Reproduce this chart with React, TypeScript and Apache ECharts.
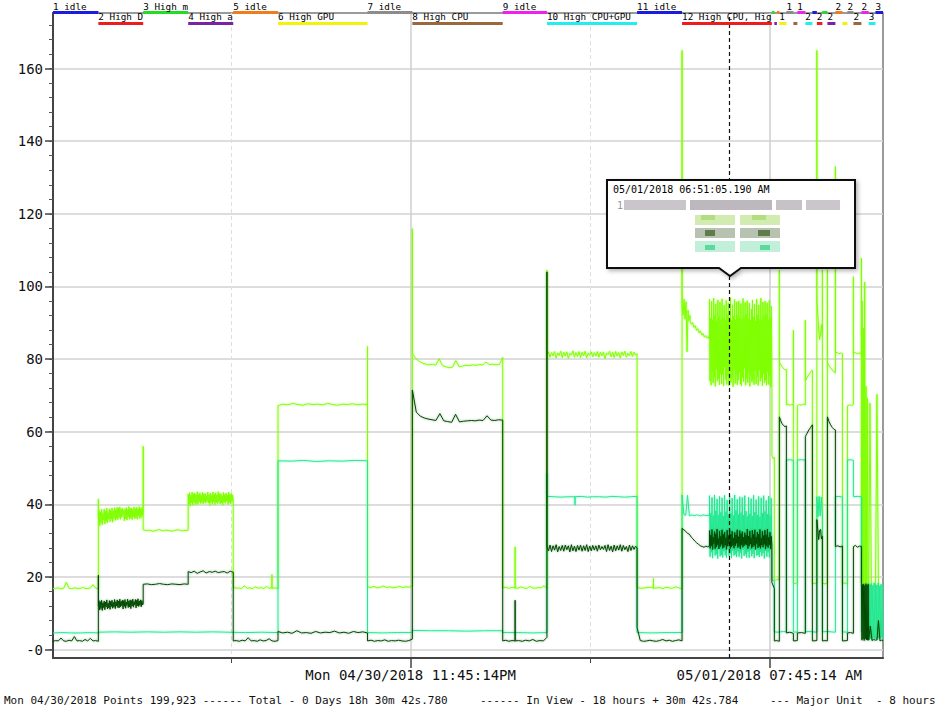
import React, { useEffect, useRef } from 'react';
import * as echarts from 'echarts';

// x values: minutes relative to Mon 04/30/2018 11:45:14 PM
const X_MIN = -478.5;
const X_MAX = 632.2;
const MAJOR_TICKS = [0, 480];
const MINOR_TICKS = [-240, 240];
const MAJOR_LABELS = ['Mon 04/30/2018 11:45:14PM', '05/01/2018 07:45:14 AM'];
const Y_MIN = -2.3;
const Y_MAX = 175.3;
const Y_MAJOR = [0, 20, 40, 60, 80, 100, 120, 140, 160];
const Y_MINOR = [0, 4, 8, 12, 16, 20, 24, 28, 32, 36, 40, 44, 48, 52, 56, 60, 64, 68, 72, 76, 80, 84, 88, 92, 96, 100, 104, 108, 112, 116, 120, 124, 128, 132, 136, 140, 144, 148, 152, 156, 160, 164, 168, 172];
const CURSOR_TIME = 425.85;

// test segments (boundaries in minutes) and their names
const segBounds = [-478.5, -417.8, -357.8, -297.6, -237.3, -177.4, -57.6, 2.4, 123.3, 182.5, 303.1, 363.3, 483.5, 486.8, 490.2, 493.5, 502.9, 512.3, 517.6, 528.3, 537.7, 543.7, 551.1, 557.8, 568.5, 577.9, 584.6, 592.6, 603.3, 613.0, 622.1, 632.2];
const segNames = ['1 idle', '2 High Disk', '3 High mem', '4 High audio', '5 idle', '6 High GPU', '7 idle', '8 High CPU', '9 idle', '10 High CPU+GPU', '11 idle', '12 High CPU, High GPU', '13 idle', '14 High Disk', '15 High mem', '16 High CPU', '17 High GPU', '18 idle', '19 High GPU', '20 High CPU', '21 idle', '22 High CPU+GPU', '23 idle', '24 High CPU', '25 High CPU+GPU', '26 idle', '27 High GPU', '28 High CPU+GPU', '29 High CPU, High GPU', '30 idle', '31 idle'];
const segColors = ['#1c1ce0', '#ee1c1c', '#22dd22', '#7a22a6', '#f07c1c', '#f2f20c', '#8c8c8c', '#9a683a', '#ee22ee', '#22eeee'];

// light green series
const lgSeg1 = [16.8, 16.9, 17.0, 16.7, 16.9, 18.6, 16.9, 16.8, 17.0, 16.9, 16.8, 17.1, 16.9, 16.8, 17.0, 17.9, 16.9, 16.8];
const lgSeg2 = [36.2, 38.4, 34.1, 37.9, 35.0, 38.6, 34.4, 37.5, 35.8, 38.7, 34.6, 38.1, 35.3, 38.9, 34.9, 37.7, 36.0, 38.8, 35.2, 38.4, 35.9, 39.0, 35.1, 38.2, 36.3, 39.1, 35.6, 38.6, 36.1, 39.2, 35.8, 38.9, 36.4, 39.3, 35.9, 38.7, 36.5, 39.0, 37.2, 38.3, 35.5, 38.8, 36.0, 39.1, 35.7, 38.5, 36.6, 39.4, 35.9, 38.9, 36.2, 39.0, 35.8, 38.6, 36.7, 39.3, 36.0, 38.8, 36.4, 39.2, 35.9, 38.7, 36.8, 39.4, 36.1, 38.9, 36.5, 39.1, 37.0, 38.6];
const lgSeg3 = [33.0, 32.8, 32.9, 32.6, 32.8, 33.1, 32.7, 32.9, 32.8, 32.6, 32.9, 33.0, 32.7, 32.8, 32.9];
const lgSeg4 = [42.8, 40.1, 43.2, 39.6, 42.5, 40.4, 43.4, 39.8, 42.9, 40.6, 43.1, 39.9, 42.6, 40.3, 43.5, 40.0, 42.7, 40.8, 43.2, 40.2, 42.4, 40.5, 43.3, 40.1, 42.9, 40.7, 43.0, 40.3, 42.2, 40.9, 43.4, 40.4, 42.7, 39.7, 43.1, 40.6, 42.5, 40.0, 43.4, 40.8, 42.8, 39.9, 43.2, 40.5, 42.6, 40.2, 43.5, 40.7, 42.9, 40.1, 43.0, 40.4, 42.3, 39.8, 43.3, 40.6, 42.7, 40.3, 43.1, 40.9, 42.5, 40.0, 43.4, 40.5, 42.8, 40.2, 43.0, 40.7, 42.6, 41.2];
const lgSeg5a = [17.2, 16.9, 17.0, 16.8, 17.6, 16.9, 17.0, 16.8, 17.3, 16.9, 17.1, 16.8, 17.4, 16.9, 17.0];
const lgSeg5b = [16.9, 17.0, 16.8];
const lgSeg6 = [67.2, 67.6, 67.4, 67.8, 67.5, 67.3, 67.7, 67.5, 67.6, 67.4, 67.8, 67.5, 67.3, 67.6, 67.5, 67.7, 67.4, 67.6, 67.5];
const lgSeg7 = [17.3, 17.1, 17.4, 17.0, 17.2, 17.5, 17.1, 17.3, 17.0, 17.2, 17.4, 17.1, 17.3, 17.2, 17.6];
const lgSeg8 = [81.6, 80.2, 79.4, 78.9, 78.6, 78.4, 78.6, 78.3, 80.1, 78.2, 77.9, 77.6, 77.8, 79.6, 77.9, 78.1, 78.3, 78.2, 78.4, 78.3, 78.5, 78.4, 79.2, 78.5, 78.6, 78.4, 78.5, 80.5];
const lgSeg9a = [17.0, 17.2, 16.9, 17.1, 17.0];
const lgSeg9b = [17.0, 16.9, 17.3, 17.0, 16.8, 17.4, 17.0, 16.9, 17.1, 17.0, 17.6, 16.8];
const lgSeg10 = [81.3, 82.0, 80.5, 81.8, 80.9, 82.1, 80.3, 81.7, 81.0, 82.2, 80.4, 81.9, 80.8, 82.0, 80.2, 81.6, 81.1, 82.3, 80.5, 81.8, 80.7, 82.1, 80.4, 81.9, 80.9, 82.2, 80.3, 81.7, 81.0, 82.0, 80.6, 81.8, 80.8, 82.1, 80.5, 81.9, 80.9, 82.0, 80.1, 81.7, 81.2, 82.2, 80.6, 81.9, 80.4, 82.1, 80.8, 81.8, 80.3, 82.0, 81.0, 82.2, 80.5, 81.6, 80.9, 82.1, 80.7, 81.9, 81.1, 81.5];
const lgSeg11a = [17.1, 16.9, 17.0, 17.2, 17.0];
const lgSeg11b = [16.9, 17.0, 17.1, 16.8, 17.2, 17.0, 16.9, 17.3, 17.0, 16.8];
const lgSeg12a = [94.5, 92.1, 96.5, 91.0, 95.8, 82.0, 93.5, 90.6, 92.0];
const lgSeg12b = [90.5, 89.6, 90.1, 88.7, 89.2, 87.9, 88.4, 87.2, 87.8, 86.6, 87.1, 86.0, 86.5, 85.8, 86.2, 85.5];
const lgSeg12c = [96.5, 74.0, 91.2, 72.8, 95.9, 76.5, 90.8, 73.4, 96.8, 75.1, 92.0, 72.5, 95.2, 77.3, 90.5, 73.9, 96.3, 74.6, 91.7, 72.9, 95.7, 76.0, 90.9, 73.2, 96.6, 75.8, 91.4, 72.6, 94.8, 77.8, 90.7, 74.3, 96.2, 73.0, 92.3, 75.4, 95.5, 72.7, 91.0, 76.7, 96.9, 73.6, 90.6, 74.9, 95.0, 72.4, 91.8, 77.1, 96.4, 73.3, 90.8, 75.6, 95.8, 72.9, 92.1, 74.2, 96.0, 76.3, 91.3, 73.1, 95.3, 72.6, 90.9, 75.0, 96.7, 73.8, 91.5, 77.5, 95.6, 72.8, 92.4, 74.7, 96.1, 73.5, 91.1, 76.1, 95.4, 72.5, 90.7, 75.3, 93.8, 73.7, 96.3, 74.4, 91.6, 72.9, 95.1, 76.8, 90.4, 73.2, 96.5, 75.2, 92.2, 72.7, 94.9, 77.0, 91.0, 73.9, 96.8, 74.8, 90.8, 72.6, 95.7, 75.9, 91.9, 73.4, 96.0, 74.1, 92.5, 72.8, 95.5, 76.4, 90.6, 73.0, 96.2, 75.5, 91.4, 72.4, 94.6, 76.9];

const lightRuns = [
  [-478.5, -417.8, lgSeg1], [-417.8, -417.8, [41.5]], [-417.8, -357.8, lgSeg2],
  [-357.8, -357.8, [56.0]], [-357.8, -297.6, lgSeg3], [-297.6, -237.3, lgSeg4],
  [-237.3, -185.5, lgSeg5a], [-185.5, -185.5, [20.7]], [-185.5, -177.4, lgSeg5b],
  [-177.4, -57.6, lgSeg6], [-57.6, -57.6, [83.5]],
  [-57.6, 2.4, lgSeg7], [2.4, 2.4, [115.9]], [2.4, 123.3, lgSeg8],
  [123.3, 139.9, lgSeg9a], [139.9, 139.9, [28.3]], [139.9, 182.5, lgSeg9b],
  [182.5, 182.5, [104.5]], [182.5, 303.1, lgSeg10],
  [303.1, 325.0, lgSeg11a], [325.0, 325.0, [19.6]], [325.0, 363.3, lgSeg11b],
  [363.3, 363.3, [165.0]], [363.3, 374, lgSeg12a], [374, 400, lgSeg12b], [400, 483.5, lgSeg12c],
  [483.5, 486.8, [53.5, 52.6, 53.0]], [486.8, 493.5, [19.3, 19.1, 19.4, 19.2]],
  [493.5, 493.5, [104.5]], [493.5, 502.9, [79.2, 78.6, 78.1, 77.6, 77.3, 77.0, 77.2]],
  [502.9, 512.3, [67.4, 67.6, 67.3, 67.5, 67.4]], [512.3, 512.3, [88.0]],
  [512.3, 517.6, [18.3, 18.2, 18.4]], [517.6, 528.3, [67.2, 67.5, 67.3, 67.6, 67.4]],
  [528.3, 528.3, [90.7]], [528.3, 537.7, [74.0, 74.8, 75.4, 76.0, 76.6, 77.0]],
  [537.7, 543.7, [18.3, 18.2, 18.4]], [543.7, 543.7, [165.0]],
  [543.7, 551.1, [96.0, 92.5, 88.0, 85.4, 87.2, 89.5, 86.3]], [551.1, 551.1, [104.5]],
  [551.1, 557.8, [18.3, 18.1, 18.4]], [557.8, 557.8, [104.6]],
  [557.8, 568.5, [79.0, 78.3, 77.6, 77.0, 76.5, 76.2]], [568.5, 568.5, [133.0]],
  [568.5, 577.9, [81.6, 81.9, 81.4, 81.7, 81.5]], [577.9, 584.6, [18.2, 18.4, 18.1]],
  [584.6, 592.6, [67.1, 67.4, 67.2, 67.5]], [592.6, 592.6, [102.7]],
  [592.6, 603.3, [81.6, 81.8, 81.5, 81.7, 81.4]], [603.3, 603.3, [107.8]],
  [603.3, 613.0, [18.3, 96.0, 18.0, 88.5, 17.6, 101.2, 18.4, 72.5, 17.9, 69.2, 17.4, 17.2]],
  [613.0, 622.1, [17.4, 67.9, 17.2, 17.6, 17.3, 17.5]],
  [622.1, 632.2, [17.2, 70.3, 17.0, 17.4, 17.1, 17.3]],
];

// aquamarine series
const aqSeg10a = [42.2, 42.1, 42.0, 42.1, 42.1];
const aqSeg10b = [42.1, 42.2, 42.0, 42.1, 42.1, 42.0, 42.2, 42.1, 42.0, 42.1, 42.2];
const aqSeg12a = [42.6, 37.2, 37.0, 42.5, 36.8, 37.1, 37.0, 36.9, 37.1, 37.0, 36.8, 37.0, 37.1, 36.9, 37.0, 36.9];
const aqSeg12c = [42.4, 25.6, 37.5, 26.8, 41.9, 25.2, 36.9, 27.4, 42.6, 25.9, 38.2, 26.3, 41.5, 25.1, 37.1, 27.8, 42.2, 25.7, 37.8, 26.1, 41.8, 25.4, 36.8, 27.1, 42.5, 26.0, 38.0, 25.3, 41.2, 27.6, 37.3, 25.8, 42.3, 26.5, 37.6, 25.2, 41.7, 27.2, 36.9, 25.9, 42.6, 26.2, 38.3, 25.5, 41.4, 27.0, 37.2, 25.6, 42.1, 26.7, 37.7, 25.1, 41.9, 27.5, 37.0, 25.8, 42.4, 26.3, 38.1, 25.4, 36.7, 26.9, 42.0, 25.3, 37.4, 27.3, 41.6, 25.7, 36.8, 26.4, 42.5, 25.2, 37.9, 27.7, 41.3, 25.9, 37.1, 26.1, 42.2, 25.5, 36.6, 27.0, 41.8, 25.8, 37.6, 26.6, 42.4, 25.1, 38.0, 27.2, 41.1, 25.6, 37.3, 26.8, 42.3, 25.4, 36.9, 27.5, 41.7, 26.0];

const aquaRuns = [
  [-478.5, -417.8, [4.6, 4.7, 4.6, 4.6, 4.7, 4.6]],
  [-417.8, -177.4, [4.8, 4.9, 4.8, 4.9, 4.8, 4.9, 4.8, 4.9, 4.8, 4.7, 4.8, 4.7]],
  [-177.4, -57.6, [52.0, 51.9, 52.1, 51.8, 52.0, 51.9, 52.1, 52.0]],
  [-57.6, 2.4, [4.7, 4.6, 4.7, 4.7]], [2.4, 123.3, [5.3, 5.2, 5.2, 5.1, 5.2, 5.2]],
  [123.3, 182.5, [4.7, 4.7, 4.6, 4.7]], [182.5, 182.5, [48.5]],
  [182.5, 220.0, aqSeg10a], [220.0, 220.0, [39.8]], [220.0, 303.1, aqSeg10b],
  [303.1, 363.3, [4.7, 4.6, 4.7, 4.7]], [363.3, 400, aqSeg12a], [400, 483.5, aqSeg12c],
  [483.5, 486.8, [19.2, 19.0]], [486.8, 502.9, [4.9, 4.8, 4.9, 5.0, 4.9]],
  [502.9, 512.3, [52.2, 52.3, 52.1]], [512.3, 517.6, [4.9, 4.8]],
  [517.6, 528.3, [52.2, 52.3, 52.2]], [528.3, 543.7, [4.9, 5.0, 4.9, 4.8]],
  [543.7, 551.1, [42.1, 36.6, 42.2, 36.8, 42.0, 37.0]], [551.1, 568.5, [4.9, 5.0, 4.9, 4.8]],
  [568.5, 577.9, [42.1, 42.2, 42.0]], [577.9, 584.6, [4.9, 4.8]],
  [584.6, 592.6, [52.2, 52.3, 52.1]], [592.6, 603.3, [42.1, 42.2, 42.1]],
  [603.3, 613.0, [4.9, 5.0, 4.8, 4.9]],
  [613.0, 622.1, [18.3, 2.8, 17.9, 3.1, 18.2, 2.6, 17.6, 3.3, 18.4, 2.9, 18.0]],
  [622.1, 632.2, [18.1, 3.0, 17.8, 2.7, 18.3, 3.2, 17.5, 2.9, 18.0, 3.4, 17.9, 2.8]],
];

// dark green series
const dgSeg1 = [2.3, 2.5, 2.4, 3.2, 2.4, 2.3, 2.6, 2.4, 3.6, 2.4, 2.5, 2.3, 2.8, 2.4, 3.1, 2.4, 2.5, 2.3];
const dgSeg2 = [12.0, 13.5, 10.9, 13.2, 11.3, 13.6, 10.8, 12.9, 11.6, 13.4, 11.0, 13.1, 11.8, 13.7, 11.2, 12.8, 11.5, 13.5, 11.1, 13.3, 11.9, 13.6, 11.4, 13.0, 11.7, 13.8, 11.3, 13.2, 12.0, 13.7, 11.6, 13.4, 11.5, 13.9, 11.8, 13.3, 12.1, 13.6, 11.2, 13.5, 11.9, 13.8, 11.4, 13.1, 12.2, 13.9, 11.6, 13.4, 11.8, 13.7, 11.3, 13.5, 12.0, 13.9, 11.7, 13.2, 12.3, 13.8, 11.5, 13.6, 12.1, 14.0, 11.9, 13.4, 12.2, 13.7, 11.8, 13.5, 12.3, 12.6];
const dgSeg3 = [18.0, 18.1, 17.9, 18.0, 18.2, 18.0, 17.9, 18.1, 18.0, 17.9, 18.1, 18.0];
const dgSeg4 = [21.5, 21.2, 21.6, 21.0, 21.4, 21.7, 21.1, 21.5, 21.3, 21.6, 21.2, 21.4, 21.5, 21.1, 21.6, 21.3];
const dgSeg5 = [2.4, 2.5, 2.3, 2.6, 2.4, 3.3, 2.4, 2.5, 2.3, 2.7, 2.4, 2.5, 3.0, 2.4, 2.3, 2.5];
const dgSeg6 = [5.0, 4.6, 4.8, 4.5, 5.2, 4.6, 4.7, 4.5, 5.0, 4.6, 4.8, 4.7, 5.1, 4.6, 4.8, 4.5, 5.0, 4.7, 4.9, 4.6];
const dgSeg7 = [2.4, 2.6, 2.3, 2.5, 2.4, 2.7, 2.3, 2.5, 2.4, 2.6, 2.4, 2.3, 2.5, 2.9];
const dgSeg8 = [71.5, 65.4, 64.3, 63.8, 63.5, 63.3, 63.1, 65.0, 63.0, 62.8, 62.6, 64.8, 62.7, 62.9, 63.0, 63.1, 63.0, 63.2, 63.1, 64.4, 63.2, 63.1, 63.3, 63.2];
const dgSeg9a = [2.4, 2.6, 2.3, 2.5, 2.4];
const dgSeg9b = [2.4, 2.5, 2.3, 2.6, 2.4, 2.8, 2.3, 2.5, 2.4, 3.4];
const dgSeg10 = [28.5, 27.2, 28.8, 27.0, 28.6, 27.4, 28.9, 26.9, 28.4, 27.3, 28.7, 27.1, 28.8, 27.5, 28.6, 26.9, 28.9, 27.2, 28.5, 27.0, 28.7, 27.4, 28.8, 27.1, 28.6, 27.3, 28.9, 27.0, 28.5, 27.2, 28.7, 27.4, 28.6, 27.1, 28.8, 27.5, 28.4, 27.6, 28.7, 27.0, 28.9, 27.3, 28.5, 26.9, 28.8, 27.2, 28.6, 27.4, 28.9, 27.1, 28.7, 27.5, 28.4, 27.0, 28.8, 27.3, 28.6, 27.6, 28.5, 28.0];
const dgSeg11 = [6.1, 2.5, 2.3, 2.4, 2.6, 2.4, 2.3, 2.5, 2.8, 2.4, 2.6, 2.3, 2.5, 2.7, 2.4];
const dgSeg12a = [33.4, 33.0, 32.6, 32.0, 31.8, 31.0, 30.5, 29.9, 29.4, 29.0, 28.6, 28.4, 28.2, 28.5, 28.3, 28.6];
const dgSeg12c = [32.8, 27.9, 31.5, 28.6, 33.1, 27.6, 30.9, 29.2, 32.5, 27.8, 31.9, 28.3, 33.2, 28.9, 30.6, 27.7, 32.7, 28.4, 31.2, 29.0, 33.0, 27.9, 31.7, 28.2, 32.4, 28.8, 30.8, 27.6, 32.9, 28.5, 31.4, 29.1, 33.1, 27.8, 31.8, 28.3, 32.6, 28.7, 30.7, 27.9, 32.3, 28.6, 31.6, 29.3, 33.0, 28.1, 31.1, 28.4, 32.8, 27.7, 31.9, 28.9, 32.5, 28.2, 30.9, 28.6, 32.2, 29.0, 31.5, 28.8, 33.2, 27.8, 31.3, 28.5, 32.7, 29.1, 30.8, 27.9, 32.9, 28.3, 31.7, 28.7, 33.0, 27.6, 31.0, 29.2, 32.4, 28.0, 31.8, 28.4, 33.1, 27.9, 30.7, 28.8, 32.6, 28.2, 31.4, 29.0, 32.9, 27.7, 31.6, 28.6, 33.2, 28.1, 30.9, 28.9, 32.3, 27.8, 31.2, 28.7];

const darkRuns = [
  [-478.5, -417.8, dgSeg1], [-417.8, -417.8, [20.5]], [-417.8, -357.8, dgSeg2],
  [-357.8, -297.6, dgSeg3], [-297.6, -237.3, dgSeg4], [-237.3, -177.4, dgSeg5],
  [-177.4, -57.6, dgSeg6], [-57.6, 2.4, dgSeg7], [2.4, 123.3, dgSeg8],
  [123.3, 139.9, dgSeg9a], [139.9, 139.9, [13.6]], [139.9, 182.5, dgSeg9b],
  [182.5, 182.5, [104.0]], [182.5, 303.1, dgSeg10], [303.1, 363.3, dgSeg11],
  [363.3, 400, dgSeg12a], [400, 483.5, dgSeg12c],
  [483.5, 486.8, [18.5, 16.8]], [486.8, 493.5, [2.4, 2.5, 2.3]],
  [493.5, 502.9, [64.1, 63.0, 62.2, 61.7, 61.4, 61.6]], [502.9, 512.3, [4.6, 4.8, 4.5]],
  [512.3, 517.6, [2.4, 2.5]], [517.6, 528.3, [4.6, 4.7, 4.5]],
  [528.3, 537.7, [58.7, 59.6, 60.5, 61.2, 61.9]], [537.7, 543.7, [2.4, 2.5]],
  [543.7, 551.1, [35.8, 33.0, 30.3, 32.9, 33.1, 30.5, 31.2]], [551.1, 557.8, [2.4, 2.5, 2.4]],
  [557.8, 568.5, [64.1, 62.8, 61.9, 61.2, 60.7, 60.5]], [568.5, 577.9, [28.4, 28.6, 28.3, 28.5]],
  [577.9, 584.6, [2.4, 2.5]], [584.6, 592.6, [4.6, 4.7, 4.5]],
  [592.6, 603.3, [28.4, 28.7, 28.2, 28.5, 28.4]],
  [603.3, 613.0, [18.3, 2.6, 17.9, 2.9, 18.1, 2.5, 17.6, 3.0, 18.2, 2.7, 17.8, 2.6, 18.0, 2.8]],
  [613.0, 622.1, [2.6, 6.5, 2.5, 2.8, 2.6]],
  [622.1, 632.2, [2.5, 2.7, 8.0, 2.4, 2.6, 2.5]],
];

const INFO_LEFT = 'Mon 04/30/2018 Points 199,923 ------ Total - 0 Days 18h 30m 42s.780';
const INFO_MID = '------ In View - 18 hours + 30m 42s.784';
const INFO_RIGHT = '--- Major Unit  - 8 hours';
const TIP_TIME = '05/01/2018 06:51:05.190 AM';

const MONO = '"DejaVu Sans Mono", "Liberation Mono", monospace';

function buildPoints(runs: any[]) {
  const pts: number[][] = [];
  runs.forEach(([t0, t1, vals]) => {
    const n = vals.length;
    vals.forEach((v: number, i: number) => {
      pts.push([n === 1 ? t0 : t0 + ((t1 - t0) * i) / (n - 1), v]);
    });
  });
  return pts;
}

export default function App() {
  const ref = useRef<HTMLDivElement>(null);
  useEffect(() => {
    if (!ref.current) return;
    const chart = echarts.init(ref.current, null, { renderer: 'svg' });
    const segData = segNames.map((_, i) => [segBounds[i], segBounds[i + 1], i % 2, i]);

    const lineSeries = (name: string, color: string, glow: string, runs: any[], z: number, extra: any = {}) => ({
      name,
      type: 'line',
      data: buildPoints(runs),
      showSymbol: false,
      symbol: 'none',
      z,
      lineStyle: { color, width: 1, shadowBlur: 2, shadowColor: glow },
      itemStyle: { color },
      silent: true,
      ...extra,
    });

    const tipX = 607, tipY = 180, tipW = 248, tipH = 88;
    const grayBlocks = [
      [624, 62, '#c9c5ca'], [690, 82, '#bdb8be'], [776, 26, '#c6c2c6'], [806, 34, '#cac6cb'],
    ];

    chart.setOption({
      animation: false,
      backgroundColor: '#ffffff',
      grid: { left: 53, right: 62, top: 13, bottom: 49, show: true, borderColor: '#7a7a7a', borderWidth: 1.5 },
      xAxis: [
        {
          type: 'value', min: X_MIN, max: X_MAX, position: 'bottom',
          axisLine: { onZero: false, lineStyle: { color: '#444', width: 2 } },
          axisTick: { customValues: MAJOR_TICKS, length: 10, lineStyle: { color: '#444', width: 1.5 } },
          axisLabel: {
            customValues: MAJOR_TICKS, margin: 10, color: '#111', fontSize: 14, fontFamily: MONO,
            formatter: (v: number) => MAJOR_LABELS[MAJOR_TICKS.indexOf(Math.round(v))] || '',
          },
          splitLine: { show: true, lineStyle: { color: '#cfcfcf', width: 1.5 } },
        },
        {
          type: 'value', min: X_MIN, max: X_MAX, position: 'bottom',
          axisLine: { show: false, onZero: false },
          axisTick: { customValues: MINOR_TICKS, length: 5, lineStyle: { color: '#444', width: 1 } },
          axisLabel: { show: false },
          splitLine: { show: true, lineStyle: { color: '#dedede', width: 1, type: [4, 3] } },
        },
      ],
      yAxis: [
        {
          type: 'value', min: Y_MIN, max: Y_MAX, position: 'left',
          axisLine: { show: true, onZero: false, lineStyle: { color: '#444', width: 2 } },
          axisTick: { show: true, customValues: Y_MAJOR, length: 8, lineStyle: { color: '#444', width: 1.5 } },
          axisLabel: {
            customValues: Y_MAJOR, margin: 10, color: '#111', fontSize: 14, fontFamily: MONO,
            formatter: (v: number) => (v === 0 ? '-0' : String(v)),
          },
          splitLine: { show: true, lineStyle: { color: '#d2d2d2', width: 1.5 } },
        },
        {
          type: 'value', min: Y_MIN, max: Y_MAX, position: 'left',
          axisLine: { show: false, onZero: false },
          axisTick: { show: true, customValues: Y_MINOR, length: 4, lineStyle: { color: '#555', width: 1 } },
          axisLabel: { show: false },
          splitLine: { show: false },
        },
      ],
      series: [
        lineSeries('light', '#7fff00', 'rgba(127,255,0,0.6)', lightRuns, 2),
        lineSeries('aqua', '#22e890', 'rgba(34,232,144,0.5)', aquaRuns, 3),
        lineSeries('dark', '#004a00', 'rgba(0,74,0,0.45)', darkRuns, 4, {
          markLine: {
            silent: true, symbol: ['none', 'none'], label: { show: false },
            lineStyle: { color: '#111', width: 1.2, type: [4, 3] },
            data: [{ xAxis: CURSOR_TIME }],
          },
        }),
        {
          type: 'custom',
          name: 'segments',
          xAxisIndex: 0,
          yAxisIndex: 0,
          clip: false,
          z: 10,
          silent: true,
          encode: { x: [0, 1], y: 2 },
          data: segData,
          renderItem: (params: any, api: any) => {
            const i = api.value(3);
            const s = api.coord([api.value(0), 0])[0];
            const e = api.coord([api.value(1), 0])[0];
            const row = api.value(2);
            const top = params.coordSys.y;
            const barY = row === 0 ? top - 2 : top + 9;
            const textY = row === 0 ? top - 7 : top + 3.5;
            const w = e - s;
            return {
              type: 'group',
              children: [
                { type: 'rect', shape: { x: s, y: barY, width: w, height: 3 }, style: { fill: segColors[i % 10] } },
                {
                  type: 'text', x: s, y: textY,
                  style: {
                    text: segNames[i], width: w >= 5.4 ? w + 2.5 : w, overflow: 'truncate', ellipsis: '',
                    font: '9.3px ' + MONO, fill: '#000', verticalAlign: 'middle', align: 'left',
                  },
                },
              ],
            };
          },
        },
      ],
      graphic: [
        {
          type: 'polygon', z: 100,
          shape: { points: [[tipX, tipY], [tipX + tipW, tipY], [tipX + tipW, tipY + tipH], [741, tipY + tipH], [730, tipY + tipH + 8], [719, tipY + tipH], [tipX, tipY + tipH]] },
          style: { fill: '#fff', stroke: '#111', lineWidth: 2, shadowBlur: 4, shadowOffsetX: 2, shadowOffsetY: 2, shadowColor: 'rgba(0,0,0,0.3)' },
        },
        { type: 'text', z: 101, x: 613, y: 189, style: { text: TIP_TIME, font: '10px ' + MONO, fill: '#000', verticalAlign: 'middle' } },
        { type: 'text', z: 101, x: 617, y: 205, style: { text: '1', font: '10px ' + MONO, fill: '#9a969a', verticalAlign: 'middle' } },
        ...grayBlocks.map(([x, w, c]) => ({ type: 'rect', z: 101, shape: { x, y: 200, width: w, height: 10 }, style: { fill: c } })),
        { type: 'rect', z: 101, shape: { x: 695, y: 215, width: 40, height: 10 }, style: { fill: '#d2ebb0' } },
        { type: 'rect', z: 101, shape: { x: 740, y: 215, width: 40, height: 10 }, style: { fill: '#d2ebb0' } },
        { type: 'rect', z: 101, shape: { x: 701, y: 215, width: 14, height: 5 }, style: { fill: '#b4dc80' } },
        { type: 'rect', z: 101, shape: { x: 752, y: 215, width: 14, height: 5 }, style: { fill: '#b4dc80' } },
        { type: 'rect', z: 101, shape: { x: 695, y: 228, width: 40, height: 10 }, style: { fill: '#b8c2b0' } },
        { type: 'rect', z: 101, shape: { x: 740, y: 228, width: 40, height: 10 }, style: { fill: '#b8c2b0' } },
        { type: 'rect', z: 101, shape: { x: 705, y: 230, width: 10, height: 6 }, style: { fill: '#5e7c4c' } },
        { type: 'rect', z: 101, shape: { x: 758, y: 230, width: 12, height: 6 }, style: { fill: '#5e7c4c' } },
        { type: 'rect', z: 101, shape: { x: 695, y: 241, width: 40, height: 11 }, style: { fill: '#c2efda' } },
        { type: 'rect', z: 101, shape: { x: 740, y: 241, width: 40, height: 11 }, style: { fill: '#c2efda' } },
        { type: 'rect', z: 101, shape: { x: 705, y: 245, width: 10, height: 5 }, style: { fill: '#5cd99c' } },
        { type: 'rect', z: 101, shape: { x: 760, y: 245, width: 10, height: 5 }, style: { fill: '#5cd99c' } },
        { type: 'text', x: 4, y: 700, style: { text: INFO_LEFT, font: '11px ' + MONO, fill: '#111', verticalAlign: 'middle' } },
        { type: 'text', x: 480, y: 700, style: { text: INFO_MID, font: '11px ' + MONO, fill: '#111', verticalAlign: 'middle' } },
        { type: 'text', x: 770, y: 700, style: { text: INFO_RIGHT, font: '11px ' + MONO, fill: '#111', verticalAlign: 'middle' } },
      ],
    });
    return () => chart.dispose();
  }, []);
  return <div ref={ref} style={{ position: 'absolute', left: 0, top: 0, width: 945, height: 707, background: '#fff' }} />;
}
